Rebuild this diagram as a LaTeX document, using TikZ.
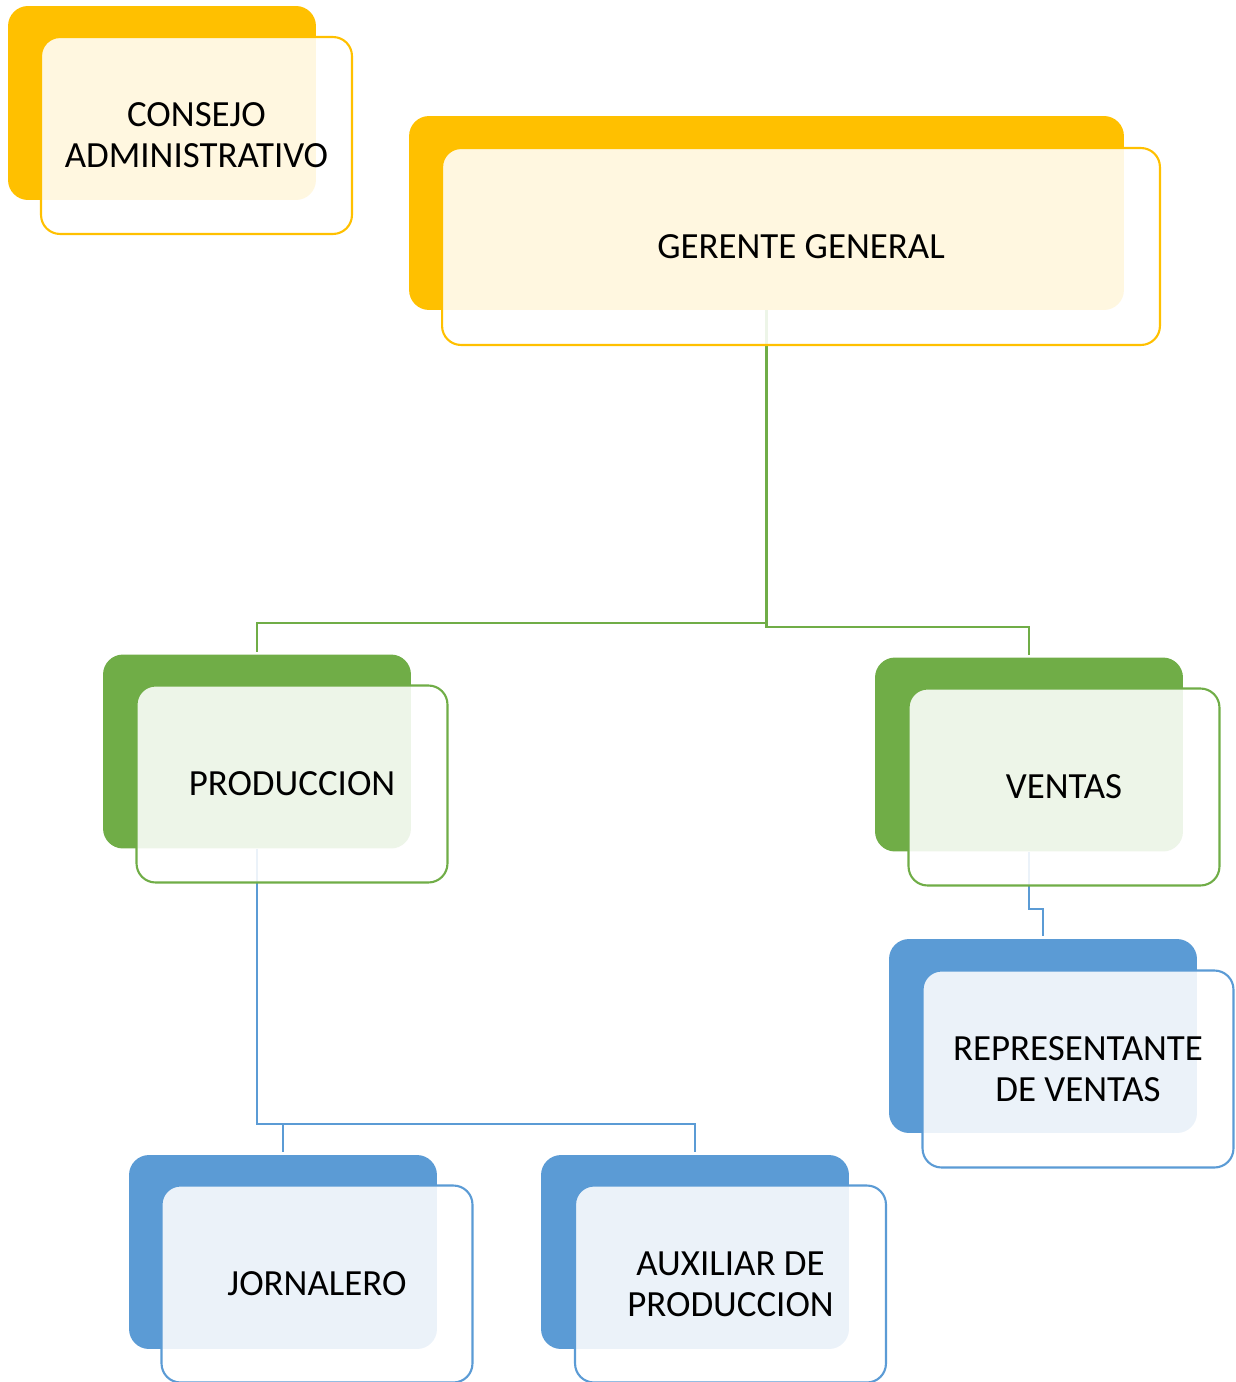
\documentclass[tikz,border=0pt]{standalone}
\usepackage{fontspec}
\setmainfont{Carlito}
\definecolor{cyel}{HTML}{FFC000}
\definecolor{cgrn}{HTML}{70AD47}
\definecolor{cblu}{HTML}{5B9BD5}
\begin{document}
\begin{tikzpicture}[x=0.02cm,y=-0.02cm,
  backbox/.style={rectangle, rounded corners=0.4cm, inner sep=0pt, fill=#1,
    minimum width=6.16cm, minimum height=3.88cm},
  frontbox/.style={rectangle, rounded corners=0.38cm, inner sep=0pt, draw=#1,
    line width=1.2pt, fill=white, fill opacity=0.88, text opacity=1,
    minimum width=6.22cm, minimum height=3.94cm, align=center,
    font=\fontsize{21}{23.3}\selectfont},
  conn/.style={draw=#1, line width=1.5pt, shorten >=0.05cm}]
\useasboundingbox (0,0) rectangle (1235,1382);
% back boxes
\node[backbox=cyel] (conb) at (162,103) {};
\node[backbox=cyel, minimum width=14.3cm] (ggb) at (766.5,213) {};
\node[backbox=cgrn] (prodb) at (257,751.5) {};
\node[backbox=cgrn] (venb) at (1029,754.5) {};
\node[backbox=cblu] (repb) at (1043,1036) {};
\node[backbox=cblu] (jorb) at (283,1252) {};
\node[backbox=cblu] (auxb) at (695,1252) {};
% connectors
\draw[conn=cgrn] (ggb.south) -- (ggb.south |- 0,627) -| (venb.north);
\draw[conn=cgrn] (ggb.south |- 0,623) -| (prodb.north);
\draw[conn=cblu] (prodb.south) -- (prodb.south |- 0,1124) -| (auxb.north);
\draw[conn=cblu] (jorb.north |- 0,1124) -- (jorb.north);
\draw[conn=cblu] (venb.south) -- (venb.south |- 0,909) -| (repb.north);
% front boxes
\node[frontbox=cyel] (con) at (196.5,135.5) {CONSEJO\\ADMINISTRATIVO};
\node[frontbox=cyel, minimum width=14.36cm] (gg) at (801,246.5) {GERENTE GENERAL};
\node[frontbox=cgrn] (prod) at (292,784) {PRODUCCION};
\node[frontbox=cgrn] (ven) at (1064,787) {VENTAS};
\node[frontbox=cblu] (rep) at (1078,1069) {REPRESENTANTE\\DE VENTAS};
\node[frontbox=cblu] (jor) at (317,1284) {JORNALERO};
\node[frontbox=cblu] (aux) at (730.5,1284) {AUXILIAR DE\\PRODUCCION};
\end{tikzpicture}
\end{document}
